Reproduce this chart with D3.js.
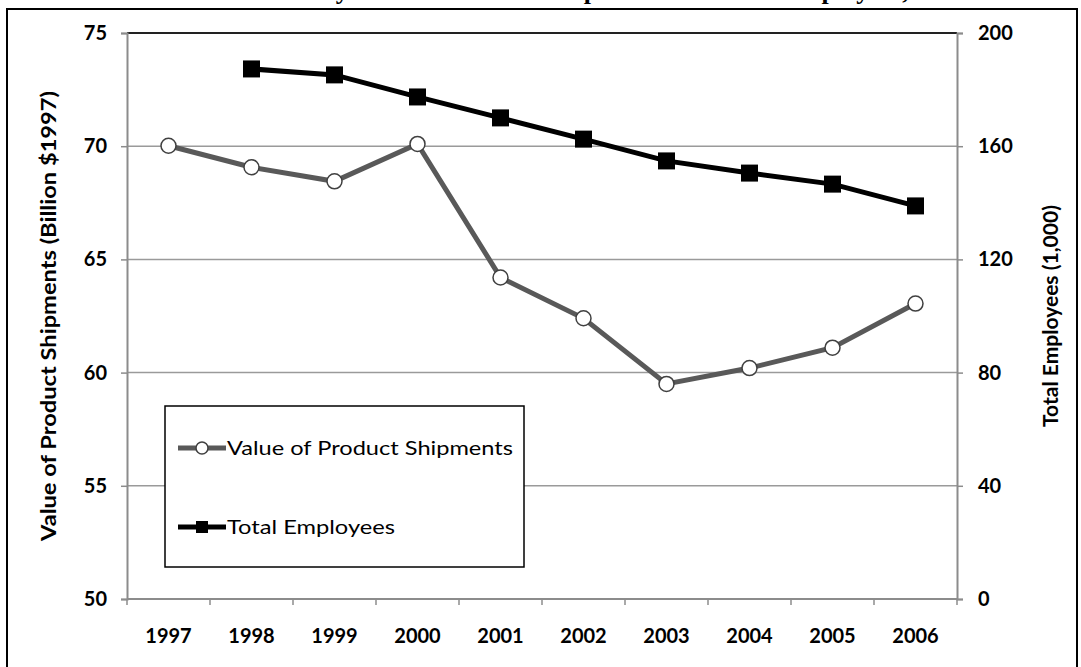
<!DOCTYPE html>
<html lang="en">
<head>
<meta charset="utf-8">
<title>Value of Product Shipments and Total Employees</title>
<script src="https://d3js.org/d3.v7.min.js"></script>
<style>
  body { margin: 0; background: #fff; }
  text { font-family: Lato, "Open Sans", sans-serif; }
</style>
</head>
<body>
<script>
// chart data
var years = ["1997", "1998", "1999", "2000", "2001", "2002", "2003", "2004", "2005", "2006"];
var shipments = [70.02, 69.07, 68.45, 70.1, 64.2, 62.4, 59.5, 60.2, 61.1, 63.05];   // billion $1997
var employees = [null, 187.3, 185.2, 177.4, 170.0, 162.5, 154.8, 150.5, 146.6, 138.9]; // thousands
var leftTicks = [50, 55, 60, 65, 70, 75];
var rightTicks = [0, 40, 80, 120, 160, 200];

var W = 1081, H = 667;
var plot = {left: 127, right: 957, top: 33, bottom: 599};

var svg = d3.select("body").append("svg")
    .attr("width", W)
    .attr("height", H);

// outer frame, the title above it is cut off at the top edge like in the original
svg.append("rect")
    .attr("x", 7).attr("y", 9)
    .attr("width", 1070).attr("height", 680)
    .attr("fill", "none")
    .attr("stroke", "#000")
    .attr("stroke-width", 2);

svg.append("text")
    .attr("x", 640).attr("y", -1)
    .attr("text-anchor", "middle")
    .style("font-family", "'Liberation Serif', 'DejaVu Serif', serif")
    .style("font-weight", "bold")
    .style("font-size", "26px")
    .text("Industry Value of Product Shipments and Total Employees, 1997-2006");

var x = d3.scaleBand().domain(years).range([plot.left, plot.right]);
var yL = d3.scaleLinear().domain([50, 75]).range([plot.bottom, plot.top]);
var yR = d3.scaleLinear().domain([0, 200]).range([plot.bottom, plot.top]);

// gridlines
svg.append("g").selectAll("line")
    .data(leftTicks.filter(function(d) { return d > 50; }))
    .enter().append("line")
    .attr("x1", plot.left).attr("x2", plot.right)
    .attr("y1", function(d) { return yL(d); })
    .attr("y2", function(d) { return yL(d); })
    .attr("stroke", function(d) { return d === 75 ? "#222" : "#9a9a9a"; })
    .attr("stroke-width", function(d) { return d === 75 ? 2 : 1.5; });

// axes
var axisColor = "#8c8c8c";
var leftAxis = svg.append("g")
    .attr("transform", "translate(" + plot.left + ",0)")
    .call(d3.axisLeft(yL).tickValues(leftTicks).tickSize(6).tickPadding(14));
var rightAxis = svg.append("g")
    .attr("transform", "translate(" + plot.right + ",0)")
    .call(d3.axisRight(yR).tickValues(rightTicks).tickSize(6).tickPadding(15));
var bottomAxis = svg.append("g")
    .attr("transform", "translate(0," + plot.bottom + ")")
    .call(d3.axisBottom(x).tickSize(0).tickPadding(30));

[leftAxis, rightAxis, bottomAxis].forEach(function(a) {
    a.select(".domain").attr("stroke", axisColor).attr("stroke-width", 2);
    a.selectAll(".tick line").attr("stroke", axisColor).attr("stroke-width", 1.5);
    a.selectAll(".tick text")
        .attr("fill", "#000")
        .style("font-size", "20px")
        .style("font-weight", "bold");
});
bottomAxis.select(".domain").attr("d", "M" + plot.left + ",0H" + plot.right);

// x category boundary ticks
svg.append("g").selectAll("line")
    .data(years.concat(["end"]))
    .enter().append("line")
    .attr("x1", function(d, i) { return i < years.length ? x(d) : plot.right; })
    .attr("x2", function(d, i) { return i < years.length ? x(d) : plot.right; })
    .attr("y1", plot.bottom)
    .attr("y2", plot.bottom + 6)
    .attr("stroke", axisColor)
    .attr("stroke-width", 1.5);

// axis titles (stretched a bit to the widths in the original)
svg.append("text")
    .attr("transform", "translate(56," + (plot.top + plot.bottom) / 2 + ") rotate(-90)")
    .attr("text-anchor", "middle")
    .attr("textLength", 450)
    .attr("lengthAdjust", "spacingAndGlyphs")
    .style("font-size", "20px")
    .style("font-weight", "bold")
    .text("Value of Product Shipments (Billion $1997)");

svg.append("text")
    .attr("transform", "translate(1058," + (plot.top + plot.bottom) / 2 + ") rotate(-90)")
    .attr("text-anchor", "middle")
    .attr("textLength", 222)
    .attr("lengthAdjust", "spacingAndGlyphs")
    .style("font-size", "20px")
    .style("font-weight", "bold")
    .text("Total Employees (1,000)");

var cx = function(d) { return x(d) + x.bandwidth() / 2; };

// employees series (right axis)
var empData = years.map(function(y, i) { return {year: y, v: employees[i]}; })
    .filter(function(d) { return d.v !== null; });
svg.append("path")
    .datum(empData)
    .attr("fill", "none")
    .attr("stroke", "#000")
    .attr("stroke-width", 5)
    .attr("d", d3.line().x(function(d) { return cx(d.year); }).y(function(d) { return yR(d.v); }));
svg.append("g").selectAll("rect")
    .data(empData)
    .enter().append("rect")
    .attr("x", function(d) { return cx(d.year) - 8.5; })
    .attr("y", function(d) { return yR(d.v) - 8.5; })
    .attr("width", 17).attr("height", 17)
    .attr("fill", "#000");

// shipments series (left axis)
var shipData = years.map(function(y, i) { return {year: y, v: shipments[i]}; });
svg.append("path")
    .datum(shipData)
    .attr("fill", "none")
    .attr("stroke", "#595959")
    .attr("stroke-width", 5)
    .attr("d", d3.line().x(function(d) { return cx(d.year); }).y(function(d) { return yL(d.v); }));
svg.append("g").selectAll("circle")
    .data(shipData)
    .enter().append("circle")
    .attr("cx", function(d) { return cx(d.year); })
    .attr("cy", function(d) { return yL(d.v); })
    .attr("r", 7.5)
    .attr("fill", "#fff")
    .attr("stroke", "#404040")
    .attr("stroke-width", 1.5);

// legend
var legend = svg.append("g");
legend.append("rect")
    .attr("x", 165).attr("y", 406)
    .attr("width", 359).attr("height", 161)
    .attr("fill", "#fff")
    .attr("stroke", "#000")
    .attr("stroke-width", 1.5);

legend.append("line")
    .attr("x1", 178).attr("x2", 226).attr("y1", 448).attr("y2", 448)
    .attr("stroke", "#595959").attr("stroke-width", 5);
legend.append("circle")
    .attr("cx", 202).attr("cy", 448).attr("r", 6)
    .attr("fill", "#fff").attr("stroke", "#404040").attr("stroke-width", 1.5);
legend.append("text")
    .attr("x", 227).attr("y", 455)
    .attr("textLength", 286)
    .attr("lengthAdjust", "spacingAndGlyphs")
    .style("font-size", "20px")
    .text("Value of Product Shipments");

legend.append("line")
    .attr("x1", 178).attr("x2", 226).attr("y1", 527).attr("y2", 527)
    .attr("stroke", "#000").attr("stroke-width", 5);
legend.append("rect")
    .attr("x", 196).attr("y", 521).attr("width", 12).attr("height", 12)
    .attr("fill", "#000");
legend.append("text")
    .attr("x", 227).attr("y", 534)
    .attr("textLength", 168)
    .attr("lengthAdjust", "spacingAndGlyphs")
    .style("font-size", "20px")
    .text("Total Employees");
</script>
</body>
</html>
